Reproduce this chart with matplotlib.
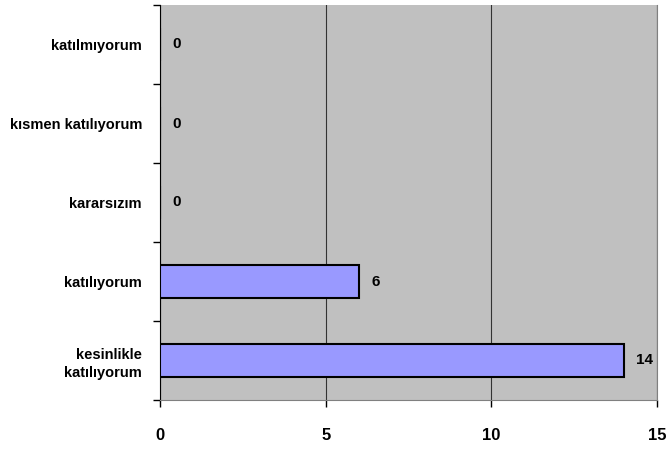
import matplotlib
matplotlib.use("Agg")
import matplotlib.pyplot as plt
from matplotlib import font_manager

categories = ["katılmıyorum", "kısmen katılıyorum", "kararsızım", "katılıyorum", "kesinlikle\nkatılıyorum"]
values = [0, 0, 0, 6, 14]
xticks = [0, 5, 10, 15]

names = {f.name for f in font_manager.fontManager.ttflist}
fam = ["Liberation Sans Narrow", "DejaVu Sans"] if "Liberation Sans Narrow" in names else ["Liberation Sans", "DejaVu Sans"]
plt.rcParams['font.family'] = fam

fig = plt.figure(figsize=(6.7, 4.54), dpi=100)
ax = fig.add_axes([160/670, 1-400/454, 497/670, 395/454])
ax.set_facecolor("#C0C0C0")

n = len(categories)
ypos = [n - 1 - i for i in range(n)]
ax.barh(ypos, values, height=0.42, color="#9999FF", edgecolor="black", linewidth=1.5, zorder=3)
for y, v in zip(ypos, values):
    ax.text(v + 0.38, y, str(v), va="center", ha="left", fontsize=11, fontweight="bold", zorder=4)

ax.set_xlim(0, 15)
ax.set_ylim(-0.5, n - 0.5)
ax.set_xticks(xticks)
ax.set_xticklabels([str(t) for t in xticks], fontsize=12, fontweight="bold")
ax.set_yticks(ypos)
ax.set_yticklabels(categories, fontsize=10.5, fontweight="bold", linespacing=1.4)
ax.tick_params(axis="y", length=0, pad=13)
ax.set_yticks([i - 0.5 for i in range(n + 1)], minor=True)
ax.tick_params(axis="y", which="minor", length=5, width=1, color="black")
ax.tick_params(axis="x", length=5, width=1, pad=15)
ax.xaxis.grid(True, color="#333333", linewidth=0.8, zorder=1)
ax.set_axisbelow(True)
ax.spines["top"].set_visible(False)
ax.spines["right"].set_color("#808080")
ax.spines["left"].set_color("black")
ax.spines["bottom"].set_color("#808080")
fig.savefig("out.png", dpi=100)
